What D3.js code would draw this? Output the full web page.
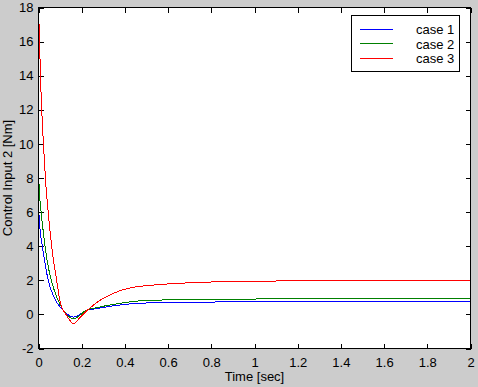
<!DOCTYPE html>
<html>
<head>
<meta charset="utf-8">
<script src="https://cdn.jsdelivr.net/npm/d3@7"></script>
<style>
  body { margin: 0; background: #cccccc; }
  svg { display: block; font-family: "Liberation Sans", Arial, sans-serif; }
</style>
</head>
<body>
<svg id="chart" width="478" height="387"></svg>
<script>
// values, per case
var case1Time  = [0, 0.007, 0.018, 0.03, 0.045, 0.07, 0.09, 0.115, 0.14, 0.16, 0.185, 0.215, 0.25, 0.282, 0.375, 0.437, 0.56, 0.75, 0.946, 1.3, 2];
var case1Value = [6.3, 5, 4, 3, 2, 1.05, 0.6, 0.23, -0.05, -0.16, -0.05, 0.2, 0.3, 0.37, 0.55, 0.63, 0.69, 0.72, 0.74, 0.76, 0.76];

var case2Time  = [0, 0.005, 0.012, 0.019, 0.03, 0.045, 0.059, 0.085, 0.115, 0.14, 0.16, 0.185, 0.215, 0.282, 0.375, 0.437, 0.52, 0.71, 1.23, 2];
var case2Value = [8.2, 7, 6, 5.2, 4, 2.8, 2, 1, 0.23, -0.12, -0.27, -0.12, 0.2, 0.43, 0.64, 0.76, 0.82, 0.88, 0.92, 0.93];

var case3Time  = [0, 0.005, 0.009, 0.015, 0.023, 0.032, 0.045, 0.061, 0.084, 0.102, 0.127, 0.145, 0.162, 0.18, 0.2, 0.22, 0.25, 0.282, 0.33, 0.375, 0.437, 0.53, 0.62, 0.75, 0.946, 1.28, 2];
var case3Value = [18, 16, 14, 12, 10, 8, 6, 4, 2, 0.63, 0, -0.35, -0.55, -0.35, -0.08, 0.17, 0.5, 0.8, 1.13, 1.38, 1.58, 1.72, 1.8, 1.88, 1.94, 1.98, 1.99];

var seriesNames = ['case 1', 'case 2', 'case 3'];
var seriesColors = ['#0000ff', '#008000', '#ff0000'];

var xTicks = [0, 0.2, 0.4, 0.6, 0.8, 1, 1.2, 1.4, 1.6, 1.8, 2];
var yTicks = [-2, 0, 2, 4, 6, 8, 10, 12, 14, 16, 18];

(function(d3) {
	var plotL = 38.5, plotR = 470.5, plotT = 7.5, plotB = 348.5;

	var svg = d3.select('#chart');

	var x = d3.scaleLinear().domain([0, 2]).range([plotL, plotR]);
	var y = d3.scaleLinear().domain([-2, 18]).range([plotB, plotT]);

	// white axes area
	svg.append('rect')
		.attr('x', plotL).attr('y', plotT)
		.attr('width', plotR - plotL).attr('height', plotB - plotT)
		.attr('fill', '#fff');

	svg.append('clipPath').attr('id', 'plotclip')
		.append('rect')
		.attr('x', plotL).attr('y', plotT - 1)
		.attr('width', plotR - plotL).attr('height', plotB - plotT + 1);

	var fmt = function(d) { return String(+d.toFixed(1)); };
	var blank = function() { return ''; };

	var styleAxis = function(g) {
		g.select('.domain').remove();
		g.selectAll('line').attr('stroke', '#000').attr('shape-rendering', 'crispEdges');
		g.selectAll('text').attr('fill', '#000').attr('font-size', 13);
	};

	svg.append('g').attr('transform', 'translate(0,' + plotB + ')')
		.call(d3.axisBottom(x).tickValues(xTicks).tickSize(-5).tickSizeOuter(0).tickPadding(9).tickFormat(fmt))
		.call(styleAxis);
	svg.append('g').attr('transform', 'translate(0,' + plotT + ')')
		.call(d3.axisTop(x).tickValues(xTicks).tickSize(-5).tickSizeOuter(0).tickFormat(blank))
		.call(styleAxis);
	svg.append('g').attr('transform', 'translate(' + plotL + ',0)')
		.call(d3.axisLeft(y).tickValues(yTicks).tickSize(-5).tickSizeOuter(0).tickPadding(5).tickFormat(fmt))
		.call(styleAxis);
	svg.append('g').attr('transform', 'translate(' + plotR + ',0)')
		.call(d3.axisRight(y).tickValues(yTicks).tickSize(-5).tickSizeOuter(0).tickFormat(blank))
		.call(styleAxis);

	// curves
	var series = [
		d3.zip(case1Time, case1Value),
		d3.zip(case2Time, case2Value),
		d3.zip(case3Time, case3Value)
	];

	var line = d3.line()
		.x(function(d) { return x(d[0]); })
		.y(function(d) { return y(d[1]); })
		.curve(d3.curveMonotoneX);

	svg.append('g').attr('clip-path', 'url(#plotclip)')
		.selectAll('path').data(series).enter().append('path')
		.attr('d', line)
		.attr('fill', 'none')
		.attr('stroke', function(d, i) { return seriesColors[i]; })
		.attr('stroke-width', 1)
		.attr('shape-rendering', 'crispEdges');

	// box
	svg.append('rect')
		.attr('x', plotL).attr('y', plotT)
		.attr('width', plotR - plotL).attr('height', plotB - plotT)
		.attr('fill', 'none').attr('stroke', '#000')
		.attr('shape-rendering', 'crispEdges');

	// axis labels
	svg.append('text')
		.attr('x', (plotL + plotR) / 2).attr('y', 381)
		.attr('text-anchor', 'middle').attr('font-size', 13)
		.text('Time [sec]');
	svg.append('text')
		.attr('transform', 'translate(12,' + ((plotT + plotB) / 2) + ') rotate(-90)')
		.attr('text-anchor', 'middle').attr('font-size', 13)
		.text('Control Input 2 [Nm]');

	// legend
	var legend = svg.append('g');
	legend.append('rect')
		.attr('x', 351.5).attr('y', 15.5)
		.attr('width', 108).attr('height', 56)
		.attr('fill', '#fff').attr('stroke', '#000')
		.attr('shape-rendering', 'crispEdges');

	var rows = legend.selectAll('g.row').data(seriesNames).enter().append('g')
		.attr('class', 'row')
		.attr('transform', function(d, i) { return 'translate(0,' + (29.5 + i * 14.3) + ')'; });
	rows.append('line')
		.attr('x1', 360).attr('x2', 393).attr('y1', 0).attr('y2', 0)
		.attr('stroke', function(d, i) { return seriesColors[i]; })
		.attr('shape-rendering', 'crispEdges');
	rows.append('text')
		.attr('x', 416).attr('y', 4.7)
		.attr('font-size', 13)
		.text(function(d) { return d; });
})(d3);
</script>
</body>
</html>
